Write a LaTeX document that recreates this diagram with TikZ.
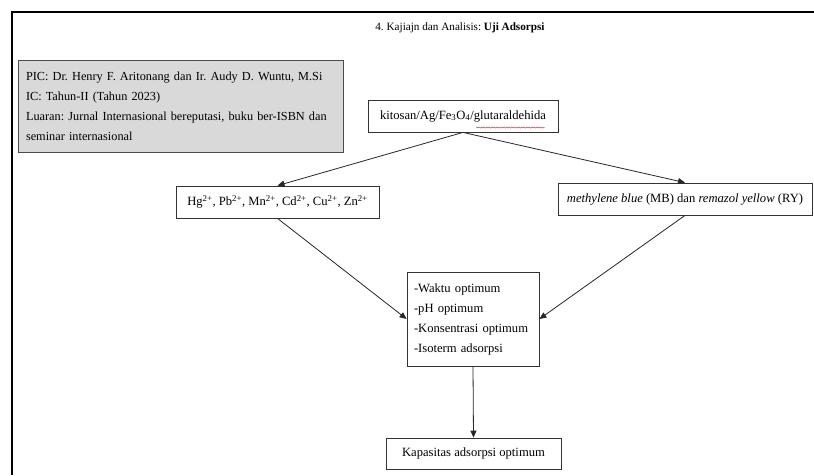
\documentclass[tikz,border=0pt]{standalone}
\usepackage{fontspec}
\setmainfont{Liberation Serif}
\usetikzlibrary{arrows.meta,decorations.pathmorphing}
\frenchspacing
\begin{document}
\begin{tikzpicture}[x=1pt,y=-1pt,
  every node/.style={font=\fontsize{12.6}{20}\selectfont, inner sep=0pt},
  box/.style={draw=black!80, line width=0.8pt, fill=white},
  arr/.style={draw=black!85, line width=0.8pt, -{Triangle[length=7pt,width=6pt]}},
  frame/.style={line width=2pt, black}]
\useasboundingbox (0,0) rectangle (814,475);
\draw[frame] (12,475) -- (12,12) -- (814,12);
\node (title) at (460,28) {\fontsize{11.2}{13}\selectfont 4. Kajiajn dan Analisis: \textbf{Uji Adsorpsi}};
\node[box, draw=black!70, fill=black!15, minimum width=325, minimum height=92, text width=309, align=left, font=\fontsize{12.3}{20}\selectfont] (info) at (180.5,106)
  {PIC: Dr. Henry F. Aritonang dan Ir. Audy D. Wuntu, M.Si\\
   IC: Tahun-II (Tahun 2023)\\
   Luaran: Jurnal Internasional bereputasi, buku ber-ISBN dan\\ seminar internasional};
\node[box, minimum width=190, minimum height=32] (kit) at (463,116)
  {kitosan/Ag/Fe\textsubscript{3}O\textsubscript{4}/glutaraldehida};
\coordinate (sqa) at (476,127.5);
\coordinate (sqb) at (545,127.5);
\draw[red, line width=0.4pt, decorate, decoration={snake, amplitude=0.6pt, segment length=2.5pt}] (sqa) -- (sqb);
\node[box, minimum width=203, minimum height=32] (hg) at (277.5,202)
  {Hg\textsuperscript{2+}, Pb\textsuperscript{2+}, Mn\textsuperscript{2+}, Cd\textsuperscript{2+}, Cu\textsuperscript{2+}, Zn\textsuperscript{2+}};
\node[box, minimum width=254, minimum height=32] (mb) at (685,199)
  {\textit{methylene blue} (MB) dan \textit{remazol yellow} (RY)};
\node[box, minimum width=132, minimum height=94, text width=118, align=left] (opt) at (473,319)
  {-Waktu optimum\\-pH optimum\\-Konsentrasi optimum\\-Isoterm adsorpsi};
\node[box, minimum width=175, minimum height=31] (kap) at (473.5,453.5)
  {Kapasitas adsorpsi optimum};
\draw[arr] (kit.south) -- (hg.north);
\draw[arr] (kit.south) -- (mb.north);
\draw[arr] (hg.south) -- (opt.west);
\draw[arr] (mb.south) -- (opt.east);
\draw[arr] (opt.south) -- (kap.north);
\end{tikzpicture}
\end{document}
